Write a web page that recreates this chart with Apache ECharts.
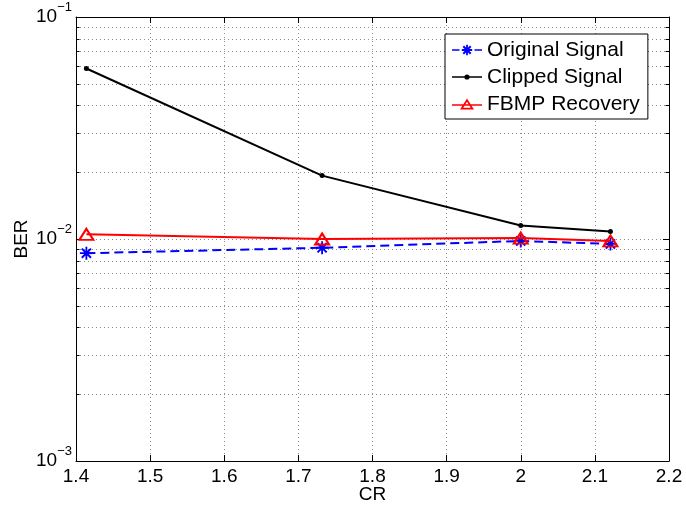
<!DOCTYPE html>
<html>
<head>
<meta charset="utf-8">
<script src="https://cdn.jsdelivr.net/npm/echarts@6/dist/echarts.min.js"></script>
<style>html,body{margin:0;padding:0;background:#fff;}#c{width:686px;height:510px;}</style>
</head>
<body>
<div id="c"></div>
<script>
// ---- data ----
const crValues = [1.414, 1.732, 2.0, 2.121];
const originalSignal = [0.00863, 0.00913, 0.0098, 0.0095];
const clippedSignal = [0.0586, 0.0193, 0.0115, 0.0108];
const fbmpRecovery = [0.0105, 0.0100, 0.0101, 0.0098];
const seriesNames = ['Original Signal', 'Clipped Signal', 'FBMP Recovery'];
const xTicks = [1.4, 1.5, 1.6, 1.7, 1.8, 1.9, 2.0, 2.1, 2.2];
const yMajorTicks = [0.001, 0.01, 0.1];
const yMinorTicks = [0.002, 0.003, 0.004, 0.005, 0.006, 0.007, 0.008, 0.009,
                     0.02, 0.03, 0.04, 0.05, 0.06, 0.07, 0.08, 0.09];

const X_MIN = xTicks[0], X_MAX = xTicks[xTicks.length - 1];
const FONT = 'Liberation Sans, Arial, Helvetica, sans-serif';
const GRID_COLOR = '#8c8c8c';

// plot marker: 8-armed asterisk
const asterisk = 'path://M8.6,0L11.4,0L11.4,20L8.6,20Z' +
  'M0,8.6L20,8.6L20,11.4L0,11.4Z' +
  'M4.06,1.88L18.12,15.94L15.94,18.12L1.88,4.06Z' +
  'M1.88,15.94L15.94,1.88L18.12,4.06L4.06,18.12Z';

// legend icons (30 x 14 box)
const iconOriginal = 'path://M0,6.2L7.5,6.2L7.5,7.8L0,7.8Z' +
  'M22.5,6.2L30,6.2L30,7.8L22.5,7.8Z' +
  'M14.1,1.8L15.9,1.8L15.9,12.2L14.1,12.2Z' +
  'M9.8,6.1L20.2,6.1L20.2,7.9L9.8,7.9Z' +
  'M12.03,2.59L19.41,9.97L17.97,11.41L10.59,4.03Z' +
  'M10.59,9.97L17.97,2.59L19.41,4.03L12.03,11.41Z';
const iconClipped = 'path://M0,6.2L30,6.2L30,7.8L0,7.8Z' +
  'M12.4,7A2.6,2.6,0,1,1,17.6,7A2.6,2.6,0,1,1,12.4,7Z';
const iconFbmp = 'path://M0,6.2L30,6.2L30,7.8L0,7.8Z' +
  'M15,0.5L22,11.5L8,11.5Z' +
  'M15,3.86L11.28,9.7L18.72,9.7Z';

const pairs = (ys) => crValues.map((x, i) => [x, ys[i]]);

const chart = echarts.init(document.getElementById('c'), null, {renderer: 'canvas'});

const option = {
  animation: false,
  backgroundColor: '#fff',
  grid: {left: 76, right: 17, top: 17, bottom: 49, containLabel: false, outerBoundsMode: 'none'},
  legend: {
    orient: 'vertical',
    left: 445, top: 34,
    backgroundColor: '#fff',
    borderColor: '#000', borderWidth: 1, borderRadius: 0,
    padding: [5, 8, 4, 7],
    itemWidth: 30, itemHeight: 14, itemGap: 5,
    symbolKeepAspect: true,
    textStyle: {fontFamily: FONT, fontSize: 21, color: '#000', lineHeight: 22},
    data: [
      {name: seriesNames[0], icon: iconOriginal, itemStyle: {color: '#0000ff', borderWidth: 0}},
      {name: seriesNames[1], icon: iconClipped, itemStyle: {color: '#000000', borderWidth: 0}},
      {name: seriesNames[2], icon: iconFbmp, itemStyle: {color: '#ff0000', borderWidth: 0}}
    ]
  },
  xAxis: [{
    type: 'value', position: 'bottom', min: X_MIN, max: X_MAX, interval: 0.1,
    name: 'CR', nameLocation: 'middle', nameGap: 24, nameMoveOverlap: false,
    nameTextStyle: {fontFamily: FONT, fontSize: 19, color: '#000'},
    axisLine: {lineStyle: {color: '#000', width: 1}},
    axisTick: {inside: true, length: 6, lineStyle: {color: '#000'}},
    axisLabel: {fontFamily: FONT, fontSize: 19, color: '#000', margin: 6,
      formatter: (v) => String(Math.round(v * 10) / 10)},
    splitLine: {show: true, lineStyle: {color: GRID_COLOR, type: [1, 3], width: 1}}
  }, {
    type: 'value', position: 'top', min: X_MIN, max: X_MAX, interval: 0.1,
    axisLine: {lineStyle: {color: '#000', width: 1}},
    axisTick: {inside: true, length: 6, lineStyle: {color: '#000'}},
    axisLabel: {show: false}, splitLine: {show: false}
  }],
  yAxis: [{
    type: 'log', logBase: 10, min: yMajorTicks[0], max: yMajorTicks[yMajorTicks.length - 1],
    position: 'left',
    name: 'BER', nameLocation: 'middle', nameGap: 45, nameRotate: 90, nameMoveOverlap: false,
    nameTextStyle: {fontFamily: FONT, fontSize: 19, color: '#000'},
    axisLine: {show: true, lineStyle: {color: '#000', width: 1}},
    axisTick: {show: true, inside: true, length: 6, lineStyle: {color: '#000'}},
    axisLabel: {
      margin: 4,
      formatter: (v) => '{b|10}{s|\u2212' + Math.round(-Math.log10(v)) + '}',
      rich: {
        b: {fontFamily: FONT, fontSize: 19, color: '#000', lineHeight: 32, verticalAlign: 'middle'},
        s: {fontFamily: FONT, fontSize: 13, color: '#000', lineHeight: 13, verticalAlign: 'top'}
      }
    },
    splitLine: {show: true, lineStyle: {color: GRID_COLOR, type: [1, 3], width: 1}}
  }, {
    type: 'log', logBase: 10, min: yMajorTicks[0], max: yMajorTicks[yMajorTicks.length - 1],
    position: 'right',
    axisLine: {show: true, lineStyle: {color: '#000', width: 1}},
    axisTick: {show: true, inside: true, length: 6, lineStyle: {color: '#000'}},
    axisLabel: {show: false}, splitLine: {show: false}
  }],
  series: [
    {
      type: 'custom', name: 'minorGrid', silent: true, z: 1,
      xAxisIndex: 0, yAxisIndex: 0,
      encode: {x: 0, y: 1},
      data: yMinorTicks.map((v) => [X_MIN, v]),
      renderItem: function (params, api) {
        const v = api.value(1);
        const a = api.coord([X_MIN, v]);
        const b = api.coord([X_MAX, v]);
        const y = Math.round(a[1]) + 0.5;
        return {
          type: 'group',
          children: [
            {type: 'line', shape: {x1: a[0], y1: y, x2: b[0], y2: y},
             style: {stroke: GRID_COLOR, lineWidth: 1, lineDash: [1, 3]}},
            {type: 'line', shape: {x1: a[0], y1: y, x2: a[0] + 3.5, y2: y},
             style: {stroke: '#000', lineWidth: 1}},
            {type: 'line', shape: {x1: b[0], y1: y, x2: b[0] - 3.5, y2: y},
             style: {stroke: '#000', lineWidth: 1}}
          ]
        };
      }
    },
    {
      type: 'line', name: seriesNames[0], z: 4,
      data: pairs(originalSignal),
      symbol: asterisk, symbolSize: 13,
      lineStyle: {color: '#0000ff', width: 2, type: [9, 5]},
      itemStyle: {color: '#0000ff'}
    },
    {
      type: 'line', name: seriesNames[1], z: 3,
      data: pairs(clippedSignal),
      symbol: 'circle', symbolSize: 5,
      lineStyle: {color: '#000', width: 2},
      itemStyle: {color: '#000'}
    },
    {
      type: 'line', name: seriesNames[2], z: 5,
      data: pairs(fbmpRecovery),
      symbol: 'triangle', symbolSize: [14, 11],
      lineStyle: {color: '#ff0000', width: 2},
      itemStyle: {color: 'rgba(255,255,255,0)', borderColor: '#ff0000', borderWidth: 2}
    }
  ]
};
chart.setOption(option);
</script>
</body>
</html>
